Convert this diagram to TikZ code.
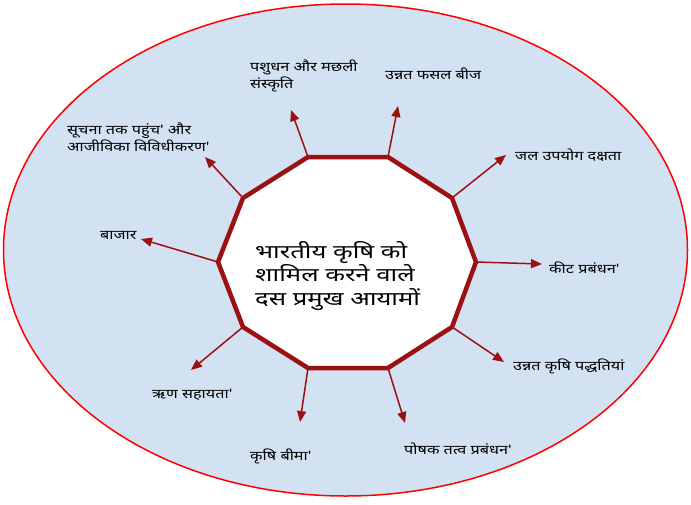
\documentclass[tikz,border=0pt]{standalone}
\usepackage{fontspec}
\setmainfont[Script=Devanagari,FakeStretch=1.25,Ligatures=TeXOff]{Noto Sans}
\newfontfamily\cfont[Script=Devanagari,FakeStretch=1.35]{Noto Sans}
\usetikzlibrary{arrows.meta}
\definecolor{dred}{HTML}{9B1111}
\definecolor{bgblue}{HTML}{D3E2F3}
\tikzset{
 lab/.style={font=\fontsize{13}{17}\selectfont, inner sep=0pt, align=left},
 arr/.style={dred, line width=1.5pt, -{Triangle[length=11pt,width=9pt]}},
}
\begin{document}
\begin{tikzpicture}[x=1pt,y=-1pt]
\useasboundingbox (0,0) rectangle (691,504);
\draw[red, line width=1.5pt, fill=bgblue] (345.5,250) ellipse [x radius=342, y radius=246];
\coordinate (v1) at (308,157);
\coordinate (v2) at (388,157);
\coordinate (v3) at (452,198);
\coordinate (v4) at (476,262);
\coordinate (v5) at (452,327);
\coordinate (v6) at (388,368);
\coordinate (v7) at (308,368);
\coordinate (v8) at (243,327);
\coordinate (v9) at (218,262);
\coordinate (v10) at (243,198);
\draw[dred, line width=4.5pt, fill=white, line join=miter] (v1)--(v2)--(v3)--(v4)--(v5)--(v6)--(v7)--(v8)--(v9)--(v10)--cycle;
\node[lab, anchor=west, font=\cfont\fontsize{19}{23.5}\selectfont] (c) at (255,276) {भारतीय कृषि को\\शामिल करने वाले\\दस प्रमुख आयामों};
\coordinate (e1) at (291,110);
\coordinate (e2) at (398,106);
\coordinate (e3) at (506,155);
\coordinate (e4) at (542,264);
\coordinate (e5) at (504,362);
\coordinate (e6) at (405,423);
\coordinate (e7) at (300,422);
\coordinate (e8) at (191,370);
\coordinate (e9) at (141,239);
\coordinate (e10) at (205,157);
\foreach \i in {1,...,10} \draw[arr] (v\i) -- (e\i);
\node[lab, anchor=north west] (t1) at (250,60) {पशुधन और मछली\\संस्कृति};
\node[lab, anchor=west] (t2) at (385,74) {उन्नत फसल बीज};
\node[lab, anchor=west] (t3) at (515,155) {जल उपयोग दक्षता};
\node[lab, anchor=west] (t4) at (549,268) {कीट प्रबंधन'};
\node[lab, anchor=west] (t5) at (513,366) {उन्नत कृषि पद्धतियां};
\node[lab, anchor=west] (t6) at (404,449) {पोषक तत्व प्रबंधन'};
\node[lab, anchor=west] (t7) at (250,456) {कृषि बीमा'};
\node[lab, anchor=west] (t8) at (152,395) {ऋण सहायता'};
\node[lab, anchor=west] (t9) at (100,236) {बाजार};
\node[lab, anchor=north west] (t10) at (67,123) {सूचना तक पहुंच' और\\आजीविका विविधीकरण'};
\end{tikzpicture}
\end{document}
